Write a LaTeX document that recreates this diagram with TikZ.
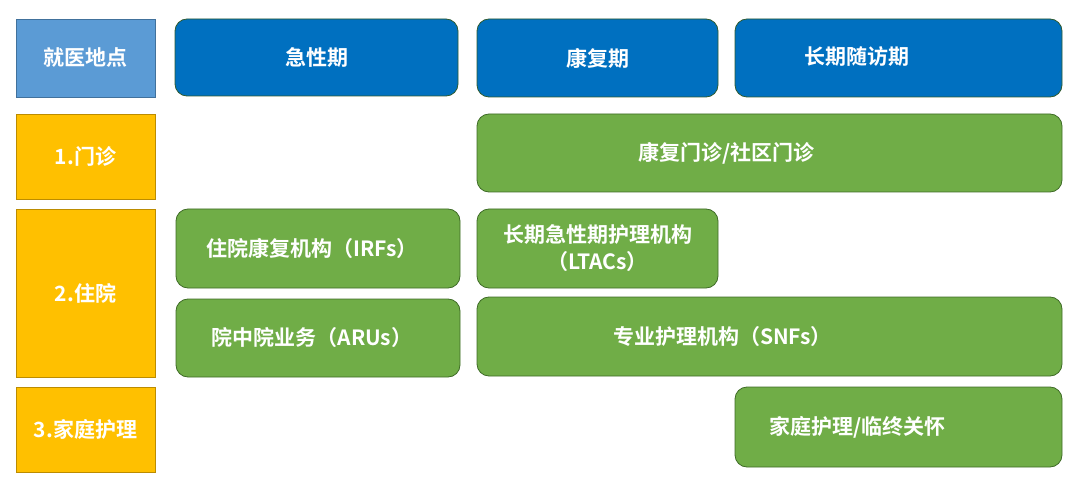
\documentclass[tikz,border=0pt]{standalone}
\usepackage{fontspec}
\setmainfont{Noto Sans CJK SC}
\newfontfamily\cjkb{Noto Sans CJK SC Bold}
\definecolor{hdrblue}{HTML}{5B9BD5}
\definecolor{hdrblueb}{HTML}{41719C}
\definecolor{phblue}{HTML}{0070C0}
\definecolor{phborder}{HTML}{2F5A2F}
\definecolor{orng}{HTML}{FFC000}
\definecolor{orngb}{HTML}{BC8C00}
\definecolor{grn}{HTML}{70AD47}
\definecolor{grnb}{HTML}{3E6B26}
\begin{document}
\begin{tikzpicture}[x=1pt,y=-1pt,
  base/.style={anchor=center, inner sep=0pt, text=white, font=\cjkb\fontsize{21}{25}\selectfont, align=center, line width=0.8pt},
  sqbox/.style={base, rectangle},
  rbox/.style={base, rectangle, rounded corners=12pt},
  locbox/.style={sqbox, fill=hdrblue, draw=hdrblueb},
  rowbox/.style={sqbox, fill=orng, draw=orngb},
  phbox/.style={rbox, fill=phblue, draw=phborder},
  carebox/.style={rbox, fill=grn, draw=grnb},
  lbl/.style={anchor=center, inner sep=0pt, text=white, font=\cjkb\fontsize{21}{25}\selectfont, align=center},
]
\useasboundingbox (0,0) rectangle (1080,484);
% header row
\node[locbox, minimum width=139pt, minimum height=78pt] (loc) at (85.5,58) {就医地点};
\node[phbox, minimum width=283pt, minimum height=77pt] (acute) at (316.5,57.5) {急性期};
\node[phbox, minimum width=241pt, minimum height=78pt] (rehab) at (597.5,58) {康复期};
\node[phbox, minimum width=327pt, minimum height=78pt] (longterm) at (898.5,58) {};
\node[lbl] (longtermlbl) at ([xshift=-42pt,yshift=1pt]longterm.center) {长期随访期};
% row labels
\node[rowbox, minimum width=139pt, minimum height=85pt] (out) at (85.5,156.5) {1.门诊};
\node[rowbox, minimum width=139pt, minimum height=168pt] (inp) at (85.5,293) {2.住院};
\node[rowbox, minimum width=139pt, minimum height=85pt] (home) at (85.5,429.5) {3.家庭护理};
% care settings
\node[carebox, minimum width=585pt, minimum height=78pt] (clinic) at (769.5,153) {};
\node[lbl] (cliniclbl) at ([xshift=-43pt]clinic.center) {康复门诊/社区门诊};
\node[carebox, minimum width=284pt, minimum height=79pt] (irf) at (318,248.5) {};
\node[lbl] (irflbl) at ([xshift=-6pt]irf.center) {住院康复机构（IRFs）};
\node[carebox, minimum width=284pt, minimum height=78pt] (aru) at (318,338) {};
\node[lbl] (arulbl) at ([xshift=-6pt]aru.center) {院中院业务（ARUs）};
\node[carebox, minimum width=241pt, minimum height=79pt, font=\cjkb\fontsize{21}{27}\selectfont] (ltac) at (597.5,248.5) {长期急性期护理机构\\（LTACs）};
\node[carebox, minimum width=585pt, minimum height=79pt] (snf) at (769.5,336.5) {};
\node[lbl] (snflbl) at ([xshift=-47pt]snf.center) {专业护理机构（SNFs）};
\node[carebox, minimum width=327pt, minimum height=80pt] (hospice) at (898.5,427) {};
\node[lbl] (hospicelbl) at ([xshift=-41pt]hospice.center) {家庭护理/临终关怀};
\end{tikzpicture}
\end{document}
